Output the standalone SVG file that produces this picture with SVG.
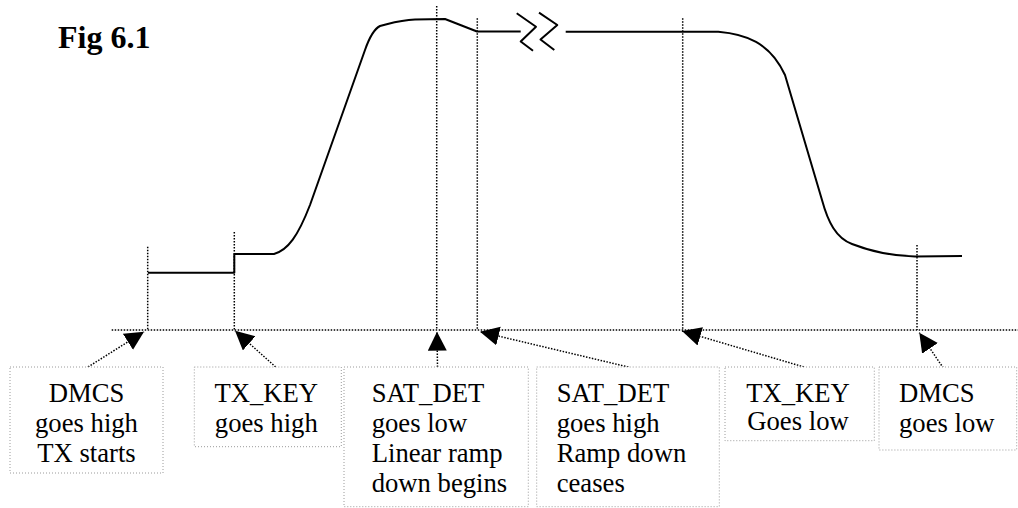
<svg xmlns="http://www.w3.org/2000/svg" width="1018" height="508" viewBox="0 0 1018 508">
<style>
  .dot { fill: none; stroke: #000; stroke-width: 1.5; stroke-dasharray: 1.5 1.5; }
  .wave { fill: none; stroke: #000; stroke-width: 2; stroke-linejoin: round; }
  .box { fill: #fff; stroke: #9a9a9a; stroke-width: 1; stroke-dasharray: 1 2; }
  .conn { fill: none; stroke: #000; stroke-width: 1.5; stroke-dasharray: 1.5 1.5; marker-end: url(#arr); }
</style>
<defs>
  <marker id="arr" markerUnits="userSpaceOnUse" markerWidth="20" markerHeight="20" refX="19" refY="9.5" orient="auto">
    <path d="M0,0 L19,9.5 L0,19 Z" fill="#000"/>
  </marker>
</defs>
<rect width="1018" height="508" fill="#fff"/>

<text x="58" y="47.7" font-family="Liberation Serif, serif" font-size="32" font-weight="700" fill="#000">Fig 6.1</text>

<g id="guides">
  <line class="dot" x1="111.7" y1="330" x2="1018" y2="330"/>
  <line class="dot" x1="147.7" y1="246.7" x2="147.7" y2="330"/>
  <line class="dot" x1="234.3" y1="232" x2="234.3" y2="330"/>
  <line class="dot" x1="436.7" y1="6" x2="436.7" y2="330"/>
  <line class="dot" x1="477.3" y1="18.3" x2="477.3" y2="330"/>
  <line class="dot" x1="682.7" y1="18.3" x2="682.7" y2="330"/>
  <line class="dot" x1="917" y1="245" x2="917" y2="330"/>
</g>

<g id="waveform">
  <path class="wave" d="M148,272.7 H234.3 V254 H274 C288,250 298,236 310,205 L365,50 Q372,30 380,26 C392,23 400,20 415,19.5 L445,19 L477,31.5 H520.7"/>
  <path class="wave" d="M516.7,13.3 L536,26.7 L520.7,41.5 L533,50.7"/>
  <path class="wave" d="M539,12.7 L557.3,25 L540.5,39.5 L554.3,50"/>
  <path class="wave" d="M565.7,31.7 H718.3 C745,34 770,42 785,75 L822,200 C828,222 836,238 852,244 C870,251 890,256 915,256.5 L962,256"/>
</g>

<g id="connectors">
  <line class="conn" x1="88" y1="367" x2="144" y2="331.7"/>
  <line class="conn" x1="275.7" y1="367" x2="235" y2="330.7"/>
  <line class="conn" x1="437.5" y1="367" x2="437" y2="331.7"/>
  <line class="conn" x1="628.3" y1="367" x2="480" y2="331.7"/>
  <line class="conn" x1="804" y1="367" x2="682" y2="331"/>
  <line class="conn" x1="943.3" y1="368" x2="919.3" y2="332.7"/>
</g>

<g id="nodes" font-family="Liberation Serif, serif" font-size="26.67" fill="#000">
<g id="n-dmcs-high" text-anchor="middle">
  <rect class="box" x="10" y="367" width="153" height="106"/>
  <text x="86.5" y="401.7">DMCS</text>
  <text x="86.5" y="431.7">goes high</text>
  <text x="86.5" y="461.7">TX starts</text>
</g>
<g id="n-txkey-high" text-anchor="middle">
  <rect class="box" x="194.3" y="367" width="147" height="79.7"/>
  <text x="266.3" y="401.7">TX_KEY</text>
  <text x="266.3" y="431.7">goes high</text>
</g>
<g id="n-satdet-low">
  <rect class="box" x="344" y="367" width="184.3" height="139.7"/>
  <text x="371.7" y="401.7">SAT_DET</text>
  <text x="371.7" y="431.7">goes low</text>
  <text x="371.7" y="461.7">Linear ramp</text>
  <text x="371.7" y="491.7">down begins</text>
</g>
<g id="n-satdet-high">
  <rect class="box" x="536.7" y="367" width="182.6" height="139.7"/>
  <text x="556.7" y="401.7">SAT_DET</text>
  <text x="556.7" y="431.7">goes high</text>
  <text x="556.7" y="461.7">Ramp down</text>
  <text x="556.7" y="491.7">ceases</text>
</g>
<g id="n-txkey-low" text-anchor="middle">
  <rect class="box" x="725" y="367" width="149.3" height="73.7"/>
  <text x="798" y="401.7">TX_KEY</text>
  <text x="798" y="430">Goes low</text>
</g>
<g id="n-dmcs-low">
  <rect class="box" x="879" y="367" width="137.7" height="83"/>
  <text x="899" y="401.7">DMCS</text>
  <text x="899" y="431.7">goes low</text>
</g>
</g>
</svg>
